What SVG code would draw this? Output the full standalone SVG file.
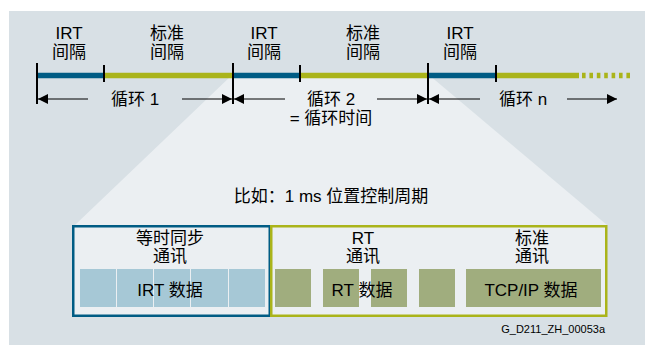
<svg xmlns="http://www.w3.org/2000/svg" width="645" height="345" viewBox="0 0 645 345">
<defs>
<marker id="ah" viewBox="0 0 10 10" refX="10" refY="5" markerWidth="10" markerHeight="10" markerUnits="userSpaceOnUse" orient="auto-start-reverse">
<path d="M0,0 L10,5 L0,10 Z" fill="#000"/>
</marker>
<style>
text{font-family:"Liberation Sans","Noto Sans CJK SC",sans-serif;fill:#000;}
.t{font-size:17px;text-anchor:middle;}
.irt{stroke:#005c84;stroke-width:5.5;}
.std{stroke:#aab41a;stroke-width:5.5;}
.tick{stroke:#000;stroke-width:2;}
.arr{stroke:#000;stroke-width:1;fill:none;}
.bc{fill:#a6c8d6;}
.oc{fill:#a0ad7e;}
</style>
</defs>
<rect x="9" y="11" width="636" height="334" fill="#d8e0e5"/>
<polygon points="232,75 429,75 607,225 75,225" fill="#ebeff2"/>

<g id="timeline">
<line class="irt" x1="37" y1="75.5" x2="104" y2="75.5"/>
<line class="std" x1="104" y1="75.5" x2="233" y2="75.5"/>
<line class="irt" x1="233" y1="75.5" x2="300" y2="75.5"/>
<line class="std" x1="300" y1="75.5" x2="428" y2="75.5"/>
<line class="irt" x1="428" y1="75.5" x2="496" y2="75.5"/>
<line class="std" x1="496" y1="75.5" x2="579" y2="75.5"/>
<line class="std" x1="582" y1="75.5" x2="632" y2="75.5" stroke-dasharray="3.6 3.8"/>
<line class="tick" x1="37" y1="63" x2="37" y2="104"/>
<line class="tick" x1="104" y1="65" x2="104" y2="82"/>
<line class="tick" x1="233" y1="63" x2="233" y2="104"/>
<line class="tick" x1="300" y1="65" x2="300" y2="82"/>
<line class="tick" x1="428" y1="63" x2="428" y2="104"/>
<line class="tick" x1="496" y1="65" x2="496" y2="82"/>
</g>

<g id="interval-labels">
<text class="t" x="69" y="39">IRT</text><text class="t" x="69" y="57.5">间隔</text>
<text class="t" x="167" y="39">标准</text><text class="t" x="167" y="57.5">间隔</text>
<text class="t" x="264" y="39">IRT</text><text class="t" x="264" y="57.5">间隔</text>
<text class="t" x="363" y="39">标准</text><text class="t" x="363" y="57.5">间隔</text>
<text class="t" x="460" y="39">IRT</text><text class="t" x="460" y="57.5">间隔</text>
</g>

<g id="connectors">
<line class="arr" x1="88" y1="99" x2="38" y2="99" marker-end="url(#ah)"/>
<line class="arr" x1="182" y1="99" x2="232" y2="99" marker-end="url(#ah)"/>
<line class="arr" x1="285" y1="99" x2="234" y2="99" marker-end="url(#ah)"/>
<line class="arr" x1="377" y1="99" x2="427" y2="99" marker-end="url(#ah)"/>
<line class="arr" x1="480" y1="99" x2="429" y2="99" marker-end="url(#ah)"/>
<line class="arr" x1="567" y1="99" x2="617" y2="99" marker-end="url(#ah)"/>
</g>

<g id="cycle-labels">
<text class="t" x="135" y="105">循环 1</text>
<text class="t" x="331" y="105">循环 2</text>
<text class="t" x="331" y="124">= 循环时间</text>
<text class="t" x="523" y="105">循环 n</text>
<text class="t" x="331" y="202">比如：1 ms 位置控制周期</text>
</g>

<g id="iso-box">
<rect x="73.25" y="226.25" width="196.5" height="89.5" fill="#ebeff2" stroke="#005c84" stroke-width="2.5"/>
<text class="t" x="170" y="244">等时同步</text>
<text class="t" x="170" y="262">通讯</text>
<rect class="bc" x="80" y="269" width="36" height="38"/>
<rect class="bc" x="117" y="269" width="36" height="38"/>
<rect class="bc" x="154" y="269" width="36" height="38"/>
<rect class="bc" x="191" y="269" width="37" height="38"/>
<rect class="bc" x="229" y="269" width="36" height="38"/>
<text class="t" x="170" y="296">IRT 数据</text>
</g>

<g id="rt-box">
<rect x="271.25" y="226.25" width="335" height="89.5" fill="#ebeff2" stroke="#aab41a" stroke-width="2.5"/>
<text class="t" x="363" y="244">RT</text>
<text class="t" x="363" y="262">通讯</text>
<text class="t" x="532" y="244">标准</text>
<text class="t" x="532" y="262">通讯</text>
<rect class="oc" x="275" y="269" width="36" height="38"/>
<rect class="oc" x="323" y="269" width="36" height="38"/>
<rect class="oc" x="371" y="269" width="36" height="38"/>
<rect class="oc" x="419" y="269" width="36" height="38"/>
<rect class="oc" x="466" y="269" width="135" height="38"/>
<text class="t" x="362" y="296">RT 数据</text>
<text class="t" x="531" y="296">TCP/IP 数据</text>
</g>

<text x="605" y="333" font-size="11" text-anchor="end">G_D211_ZH_00053a</text>
</svg>
